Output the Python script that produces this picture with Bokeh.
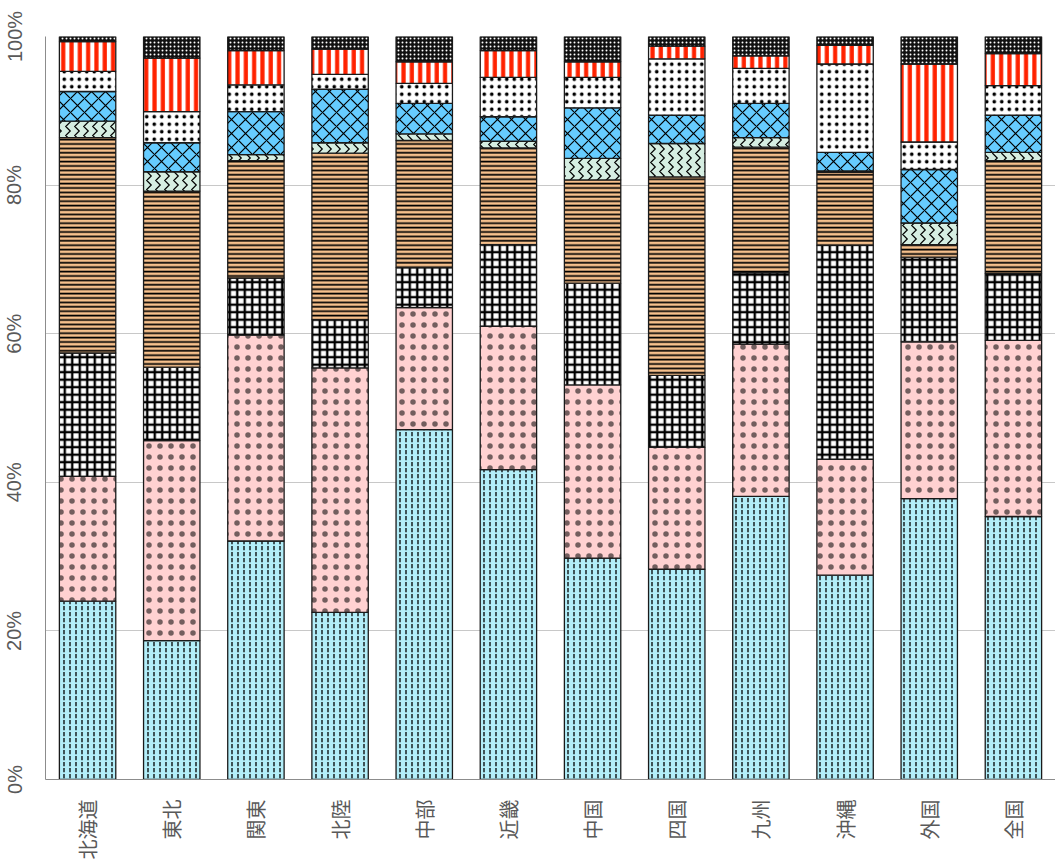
import numpy as np
from math import pi
from bokeh.plotting import figure
from bokeh.models import ColumnDataSource, FixedTicker, PrintfTickFormatter, Range1d, FactorRange
from bokeh.embed import file_html
from bokeh.resources import INLINE

regions = ["北海道", "東北", "関東", "北陸", "中部", "近畿", "中国", "四国", "九州", "沖縄", "外国", "全国"]

s1 = [24.0, 18.7, 32.1, 22.5, 47.1, 41.7, 29.8, 28.3, 38.1, 27.5, 37.8, 35.4]
s2 = [16.8, 26.9, 27.7, 32.9, 16.4, 19.3, 23.3, 16.4, 20.5, 15.6, 21.1, 23.7]
s3 = [16.6, 9.9, 7.7, 6.5, 5.4, 11.0, 13.7, 9.7, 9.6, 28.8, 11.4, 9.0]
s4 = [29.0, 23.7, 15.8, 22.4, 17.1, 13.0, 13.9, 26.7, 16.9, 9.8, 1.7, 15.2]
s5 = [2.2, 2.6, 0.8, 1.4, 0.9, 0.9, 2.9, 4.5, 1.3, 0.2, 2.9, 1.1]
s6 = [4.0, 3.9, 5.8, 7.2, 4.1, 3.3, 6.8, 3.8, 4.6, 2.5, 7.2, 5.0]
s7 = [2.7, 4.2, 3.6, 2.0, 2.7, 5.3, 4.1, 7.6, 4.7, 11.9, 3.7, 4.0]
s8 = [4.0, 7.2, 4.6, 3.4, 2.9, 3.6, 2.1, 1.7, 1.7, 2.5, 10.5, 4.3]
s9 = [0.7, 2.9, 1.9, 1.7, 3.4, 1.9, 3.4, 1.3, 2.6, 1.2, 3.7, 2.3]

y_ticks = [0, 20, 40, 60, 80, 100]

series = [s1, s2, s3, s4, s5, s6, s7, s8, s9]

styles = [
    dict(fill_color="#B3EEF9", hatch_pattern="vertical_dash", hatch_color="#000000", hatch_scale=6, hatch_weight=1.3),
    dict(fill_color="#FFD1D1", hatch_pattern="dot", hatch_color="#000000", hatch_scale=11, hatch_weight=0.1, hatch_alpha=0.55),
    dict(fill_color="#FFFFFF", hatch_pattern="cross", hatch_color="#000000", hatch_scale=7.5, hatch_weight=2.4),
    dict(fill_color="#F6C08C", hatch_pattern="horizontal_line", hatch_color="#000000", hatch_scale=4.4, hatch_weight=1.7),
    dict(fill_color="#D6EEE2", hatch_pattern="vertical_wave", hatch_color="#000000", hatch_scale=9, hatch_weight=1.2),
    dict(fill_color="#66CCFF", hatch_pattern="diagonal_cross", hatch_color="#000000", hatch_scale=14, hatch_weight=1.2),
    dict(fill_color="#FFFFFF", hatch_pattern="dot", hatch_color="#000000", hatch_scale=7.5, hatch_weight=0.4),
    dict(fill_color="#FFFFFF", hatch_pattern="vertical_line", hatch_color="#FF2200", hatch_scale=8.3, hatch_weight=4.2),
    dict(fill_color="#111111", hatch_pattern="dot", hatch_color="#FFFFFF", hatch_scale=4, hatch_weight=1.4),
]

p = figure(
    x_range=FactorRange(*regions, range_padding=0),
    y_range=Range1d(0, 100),
    frame_width=1010, frame_height=743,
    min_border_left=40, min_border_top=36, min_border_right=0, min_border_bottom=79,
    output_backend="svg", toolbar_location=None,
)

bottom = np.zeros(len(regions))
for vals, st in zip(series, styles):
    top = bottom + np.array(vals)
    src = ColumnDataSource(dict(x=regions, bottom=bottom.copy(), top=top))
    p.vbar(x="x", bottom="bottom", top="top", width=0.67, source=src,
           line_color="#1a1a1a", line_width=1.3, **st)
    bottom = top

p.outline_line_color = None
p.xgrid.grid_line_color = None
p.ygrid.grid_line_color = "#C8C8C8"
p.ygrid.grid_line_width = 1.2

p.yaxis.ticker = FixedTicker(ticks=y_ticks)
p.yaxis.formatter = PrintfTickFormatter(format="%d%%")
p.yaxis.major_label_orientation = "parallel"
p.yaxis.major_tick_line_color = None
p.yaxis.minor_tick_line_color = None
p.yaxis.axis_line_color = "#8C8C8C"
p.yaxis.major_label_text_font = "Liberation Sans"
p.yaxis.major_label_text_font_size = "20px"
p.yaxis.major_label_text_color = "#595959"
p.yaxis.major_label_standoff = 14

p.xaxis.major_label_orientation = pi / 2
p.xaxis.major_tick_line_color = None
p.xaxis.minor_tick_line_color = None
p.xaxis.axis_line_color = "#8C8C8C"
p.xaxis.major_label_text_font = "Noto Sans CJK JP"
p.xaxis.major_label_text_font_size = "20px"
p.xaxis.major_label_text_color = "#595959"
p.xaxis.major_label_standoff = 14

open("out.html", "w").write(file_html(p, INLINE))
